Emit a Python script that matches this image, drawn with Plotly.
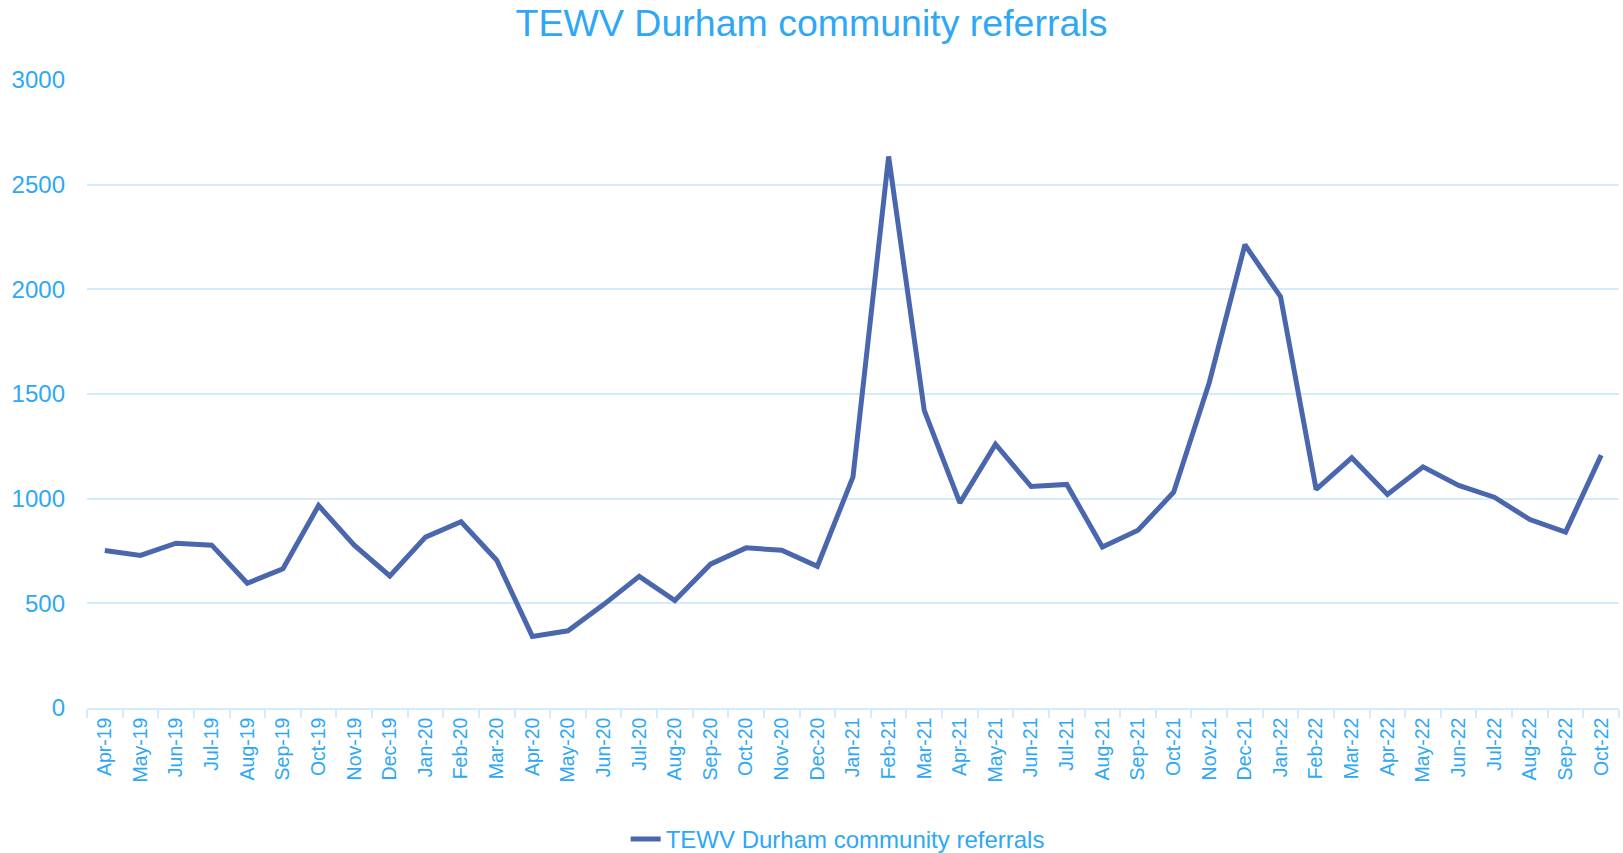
import plotly.graph_objects as go

months = ["Apr-19", "May-19", "Jun-19", "Jul-19", "Aug-19", "Sep-19", "Oct-19", "Nov-19", "Dec-19",
          "Jan-20", "Feb-20", "Mar-20", "Apr-20", "May-20", "Jun-20", "Jul-20", "Aug-20", "Sep-20",
          "Oct-20", "Nov-20", "Dec-20", "Jan-21", "Feb-21", "Mar-21", "Apr-21", "May-21", "Jun-21",
          "Jul-21", "Aug-21", "Sep-21", "Oct-21", "Nov-21", "Dec-21", "Jan-22", "Feb-22", "Mar-22",
          "Apr-22", "May-22", "Jun-22", "Jul-22", "Aug-22", "Sep-22", "Oct-22"]

referrals = [752, 729, 787, 778, 596, 665, 967, 778, 631,
             816, 890, 706, 342, 369, 494, 629, 513, 687,
             765, 754, 677, 1104, 2635, 1422, 980, 1260, 1058,
             1068, 769, 849, 1031, 1555, 2213, 1965, 1044, 1196,
             1020, 1152, 1063, 1007, 900, 840, 1208]

series_name = "TEWV Durham community referrals"
y_ticks = [0, 500, 1000, 1500, 2000, 2500, 3000]

TEXT = "#2ea8f6"
GRID = "#d4ebfb"
LINE = "#4a67ae"
FONT = "Liberation Sans, Arial, sans-serif"

fig = go.Figure()
fig.add_trace(go.Scatter(x=months, y=referrals, mode="lines", name=series_name,
                         line=dict(color=LINE, width=5)))

fig.update_layout(
    width=1623, height=853,
    paper_bgcolor="white", plot_bgcolor="white",
    margin=dict(l=87, r=4, t=80, b=145),
    font=dict(family=FONT, color=TEXT),
    title=dict(text=series_name, x=0.5, xanchor="center", y=0.973, yanchor="middle",
               yref="container", font=dict(size=37.5, color=TEXT, family=FONT)),
    showlegend=True,
    legend=dict(orientation="h", x=0.49, xanchor="center", y=0.016, yanchor="middle",
                yref="container", font=dict(size=24, color=TEXT, family=FONT),
                bgcolor="rgba(0,0,0,0)"),
)
fig.update_xaxes(type="category", range=[-0.5, len(months) - 0.5], tickangle=-90,
                 tickson="boundaries", ticks="outside",
                 ticklen=8, tickcolor=GRID, tickwidth=1.5, showline=True, linecolor=GRID,
                 linewidth=1.5, showgrid=False, tickfont=dict(size=19.5, color=TEXT, family=FONT))
fig.update_yaxes(range=[0, 3000], tickvals=y_ticks, showgrid=True, gridcolor=GRID, gridwidth=1.5,
                 zeroline=False, showline=False, ticks="", ticklen=0, ticklabelstandoff=21,
                 tickfont=dict(size=24, color=TEXT, family=FONT))

fig.write_html("out.html", config={"displayModeBar": False},
               post_script="document.body.style.margin='0';document.body.style.overflow='hidden';")
